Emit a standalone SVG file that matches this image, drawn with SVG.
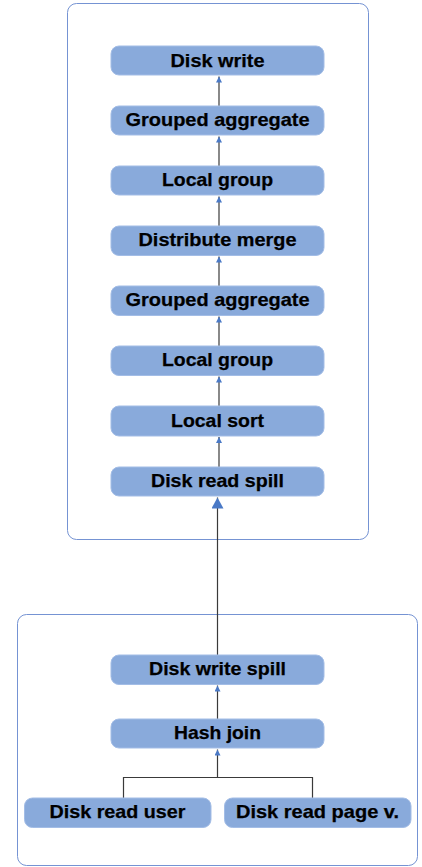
<svg xmlns="http://www.w3.org/2000/svg" width="422" height="867" viewBox="0 0 422 867">
  <style>
    .cluster { fill: #ffffff; stroke: #7593d3; stroke-width: 1; }
    .node rect { fill: #89aadb; stroke: #a3bde6; stroke-width: 1; }
    .node text { font-family: "Liberation Sans", Arial, sans-serif; font-weight: bold; font-size: 18.5px; fill: #000000; stroke: #000000; stroke-width: 0.25; text-anchor: middle; }
    .edge { stroke: #3a3a3a; stroke-width: 1.2; fill: none; }
  </style>
  <defs>
    <marker id="tip" viewBox="0 0 6 6" refX="6" refY="3" markerWidth="6" markerHeight="6" markerUnits="userSpaceOnUse" orient="auto">
      <path d="M0,0 L6,3 L0,6 z" fill="#4a79c6"/>
    </marker>
    <marker id="tipBig" viewBox="0 0 11 12" refX="11" refY="6" markerWidth="11" markerHeight="12" markerUnits="userSpaceOnUse" orient="auto">
      <path d="M0,0 L11,6 L0,12 z" fill="#4a79c6"/>
    </marker>
  </defs>

  <!-- stage boundaries -->
  <rect class="cluster" x="67.5" y="3.5" width="301" height="536" rx="9"/>
  <rect class="cluster" x="17.5" y="614.5" width="400" height="251" rx="9"/>

  <g id="connectors">
    <line class="edge" x1="219" y1="106" x2="219" y2="76.5" marker-end="url(#tip)"/>
    <line class="edge" x1="219" y1="166" x2="219" y2="136.5" marker-end="url(#tip)"/>
    <line class="edge" x1="219" y1="226" x2="219" y2="196.5" marker-end="url(#tip)"/>
    <line class="edge" x1="219" y1="286" x2="219" y2="256.5" marker-end="url(#tip)"/>
    <line class="edge" x1="219" y1="346" x2="219" y2="316.5" marker-end="url(#tip)"/>
    <line class="edge" x1="219" y1="406" x2="219" y2="376.5" marker-end="url(#tip)"/>
    <line class="edge" x1="219" y1="467" x2="219" y2="437" marker-end="url(#tip)"/>
    <line class="edge" x1="217.5" y1="655" x2="217.5" y2="497.5" marker-end="url(#tipBig)"/>
    <line class="edge" x1="217.5" y1="719" x2="217.5" y2="685.5" marker-end="url(#tip)"/>
    <polyline class="edge" points="123.5,798 123.5,777.5 312.5,777.5 312.5,798"/>
    <line class="edge" x1="217.5" y1="777.5" x2="217.5" y2="749.5" marker-end="url(#tip)"/>
  </g>

  <g id="disk-write" class="node">
    <rect x="111" y="46" width="213" height="29" rx="8"/>
    <text x="217.5" y="66.5" textLength="94" lengthAdjust="spacingAndGlyphs">Disk write</text>
  </g>
  <g id="grouped-aggregate-2" class="node">
    <rect x="111" y="106" width="213" height="29" rx="8"/>
    <text x="217.5" y="126" textLength="184" lengthAdjust="spacingAndGlyphs">Grouped aggregate</text>
  </g>
  <g id="local-group-2" class="node">
    <rect x="111" y="166" width="213" height="29" rx="8"/>
    <text x="217.5" y="186.3" textLength="111" lengthAdjust="spacingAndGlyphs">Local group</text>
  </g>
  <g id="distribute-merge" class="node">
    <rect x="111" y="226" width="213" height="29.5" rx="8"/>
    <text x="217.5" y="246.3" textLength="158" lengthAdjust="spacingAndGlyphs">Distribute merge</text>
  </g>
  <g id="grouped-aggregate-1" class="node">
    <rect x="111" y="286" width="213" height="29.5" rx="8"/>
    <text x="217.5" y="306.3" textLength="184" lengthAdjust="spacingAndGlyphs">Grouped aggregate</text>
  </g>
  <g id="local-group-1" class="node">
    <rect x="111" y="346" width="213" height="29.5" rx="8"/>
    <text x="217.5" y="366.3" textLength="111" lengthAdjust="spacingAndGlyphs">Local group</text>
  </g>
  <g id="local-sort" class="node">
    <rect x="111" y="406" width="213" height="30" rx="8"/>
    <text x="217.5" y="426.6" textLength="93" lengthAdjust="spacingAndGlyphs">Local sort</text>
  </g>
  <g id="disk-read-spill" class="node">
    <rect x="111" y="467" width="213" height="29" rx="8"/>
    <text x="217.5" y="487.3" textLength="133" lengthAdjust="spacingAndGlyphs">Disk read spill</text>
  </g>

  <g id="disk-write-spill" class="node">
    <rect x="111" y="655" width="213" height="29.5" rx="8"/>
    <text x="217.5" y="675.3" textLength="137" lengthAdjust="spacingAndGlyphs">Disk write spill</text>
  </g>
  <g id="hash-join" class="node">
    <rect x="111" y="719" width="213" height="29" rx="8"/>
    <text x="217.5" y="739.3" textLength="87" lengthAdjust="spacingAndGlyphs">Hash join</text>
  </g>
  <g id="disk-read-user" class="node">
    <rect x="24.5" y="798" width="186.5" height="29.5" rx="8"/>
    <text x="117.5" y="818.3" textLength="136" lengthAdjust="spacingAndGlyphs">Disk read user</text>
  </g>
  <g id="disk-read-page-views" class="node">
    <rect x="224.5" y="798" width="186.5" height="29.5" rx="8"/>
    <text x="317.5" y="818.3" textLength="163" lengthAdjust="spacingAndGlyphs">Disk read page v.</text>
  </g>
</svg>
